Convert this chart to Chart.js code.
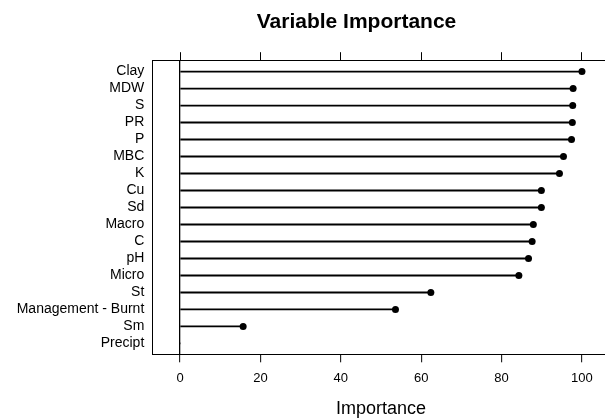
<!DOCTYPE html>
<html>
<head>
<meta charset="utf-8">
<script src="https://cdn.jsdelivr.net/npm/chart.js@4.4.1/dist/chart.umd.min.js"></script>
<style>
html, body { margin: 0; padding: 0; overflow: hidden; background: #fff; }
#wrap { width: 713px; height: 418px; }
</style>
</head>
<body>
<div id="wrap"><canvas id="imp" width="713" height="418"></canvas></div>
<script>
// values, top row first
const variables = ['Clay', 'MDW', 'S', 'PR', 'P', 'MBC', 'K', 'Cu', 'Sd', 'Macro', 'C', 'pH',
	'Micro', 'St', 'Management - Burnt', 'Sm', 'Precipt'];
const importance = [100, 97.8, 97.7, 97.6, 97.4, 95.4, 94.4, 89.9, 89.9, 87.9, 87.6, 86.7,
	84.3, 62.4, 53.6, 15.7, null];
const xTicks = [0, 20, 40, 60, 80, 100];

Chart.defaults.font.family = '"Liberation Sans", Arial, Helvetica, sans-serif';
Chart.defaults.color = '#000';

const rowIdx = variables.map((v, i) => i + 1);
const setTicks = (vals) => (scale) => { scale.ticks = vals.map(v => ({ value: v })); };

let stems = variables.map((v, i) => ({ y: i + 1, x: [0, importance[i] === null ? 0 : importance[i]] }));
let dots = variables.map((v, i) => ({ y: i + 1, x: importance[i] }));

new Chart(document.getElementById('imp'), {
	type: 'bar',
	data: {
		datasets: [
			{
				type: 'bar',
				data: stems,
				xAxisID: 'x',
				yAxisID: 'y',
				backgroundColor: '#000',
				borderWidth: 0,
				barThickness: 1.2,
				order: 2
			},
			{
				type: 'scatter',
				data: dots,
				xAxisID: 'x',
				yAxisID: 'y',
				pointRadius: 3.5,
				pointBackgroundColor: '#000',
				pointBorderWidth: 0,
				order: 1
			}
		]
	},
	options: {
		indexAxis: 'y',
		responsive: false,
		animation: false,
		devicePixelRatio: 1,
		layout: { padding: 0 },
		plugins: {
			legend: { display: false },
			tooltip: { enabled: false },
			title: {
				display: true,
				text: 'Variable Importance',
				font: { size: 21, weight: 'bold', lineHeight: 1.2 },
				color: '#000',
				padding: { top: 9.6, bottom: 17.4 }
			}
		},
		scales: {
			x: {
				type: 'linear',
				position: 'bottom',
				min: -6.9,
				max: 106.9,
				afterBuildTicks: setTicks(xTicks),
				afterFit: (s) => { s.height = 63.7; },
				ticks: { font: { size: 13 }, padding: 8.2, maxRotation: 0, color: '#000' },
				grid: {
					color: (ctx) => (ctx.tick && ctx.tick.value === 0) ? '#000' : 'rgba(0,0,0,0)',
					lineWidth: 1.3,
					tickColor: '#000',
					tickWidth: 1,
					tickLength: 8
				},
				border: { display: true, color: '#000', width: 1 },
				title: {
					display: true,
					text: 'Importance',
					font: { size: 18, lineHeight: 1 },
					color: '#000',
					padding: { top: 0, bottom: 0.4 }
				}
			},
			x2: {
				type: 'linear',
				position: 'top',
				min: -6.9,
				max: 106.9,
				afterBuildTicks: setTicks(xTicks),
				afterFit: (s) => { s.height = 8.5; },
				ticks: { display: false },
				grid: {
					drawOnChartArea: false,
					tickColor: '#000',
					tickWidth: 1,
					tickLength: 8.5
				},
				border: { display: true, color: '#000', width: 1 }
			},
			y: {
				type: 'linear',
				position: 'left',
				reverse: true,
				offset: false,
				min: 0.36,
				max: 17.64,
				afterBuildTicks: setTicks(rowIdx),
				afterFit: (s) => { s.width = 152.3; },
				ticks: {
					font: { size: 14 },
					padding: 8,
					color: '#000',
					autoSkip: false,
					callback: (v) => variables[v - 1]
				},
				grid: { color: 'rgba(0,0,0,0)', drawTicks: false, offset: false },
				border: { display: true, color: '#000', width: 1 }
			},
			// empty right margin (the original figure is wider than the window)
			yRight: {
				type: 'linear',
				position: 'right',
				min: 0,
				max: 1,
				afterFit: (s) => { s.width = 103.3; },
				ticks: { display: false },
				grid: { display: false, drawTicks: false },
				border: { display: false }
			}
		}
	}
});
</script>
</body>
</html>
